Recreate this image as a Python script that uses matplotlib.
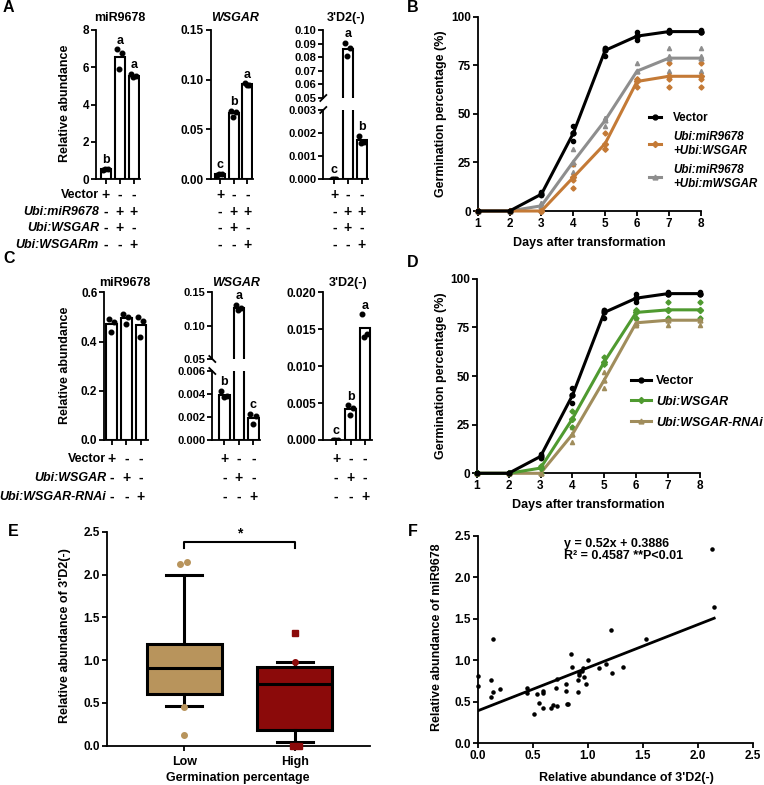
import matplotlib
matplotlib.use('Agg')
import matplotlib.pyplot as plt
from matplotlib.lines import Line2D
from matplotlib.ticker import FormatStrFormatter
import matplotlib.transforms as mtrans
import numpy as np

plt.rcParams['font.family'] = ['Liberation Sans', 'DejaVu Sans']
plt.rcParams['font.weight'] = 'bold'
plt.rcParams['axes.labelweight'] = 'bold'
plt.rcParams['font.size'] = 8.5
plt.rcParams['axes.linewidth'] = 1.3

# ---- data ----
groups = [0, 1, 2]
# panel A (3 replicates per line)
a_mir = [[0.50, 0.52, 0.54], [6.96, 6.78, 5.90], [5.64, 5.53, 5.46]]
a_wsgar = [[0.004, 0.005, 0.005], [0.0688, 0.0674, 0.0624], [0.0963, 0.0950, 0.0946]]
a_d2 = [[0.00001, 0.00002, 0.00001], [0.0903, 0.0867, 0.0812], [0.00189, 0.00163, 0.00156]]
a_letters = [['b', 'a', 'a'], ['c', 'b', 'a'], ['c', 'a', 'b']]
a_rows = ['Vector', 'Ubi:miR9678', 'Ubi:WSGAR', 'Ubi:WSGARm']
a_signs = [['+', '-', '-'], ['-', '+', '+'], ['-', '+', '-'], ['-', '-', '+']]

# panel C
c_mir = [[0.492, 0.481, 0.440], [0.513, 0.501, 0.471], [0.501, 0.485, 0.420]]
c_wsgar = [[0.0043, 0.0038, 0.0037], [0.131, 0.126, 0.124], [0.0023, 0.0021, 0.0014]]
c_d2 = [[0.00002, 0.00003, 0.00001], [0.0047, 0.0043, 0.0034], [0.0170, 0.0144, 0.0140]]
c_letters = [None, ['b', 'a', 'c'], ['c', 'b', 'a']]
c_rows = ['Vector', 'Ubi:WSGAR', 'Ubi:WSGAR-RNAi']
c_signs = [['+', '-', '-'], ['-', '+', '-'], ['-', '-', '+']]

# panels B and D: germination %, 3 replicates per day
days = [1, 2, 3, 4, 5, 6, 7, 8]
vector = [[0, 0, 0], [0, 0, 0], [8, 8, 10], [36, 40, 44], [80, 84, 84],
          [88, 90, 92], [92, 92, 93], [92, 92, 93]]
b_wsgar = [[0, 0, 0], [0, 0, 0], [0, 0, 0], [12, 16, 24], [32, 32, 40],
           [64, 68, 68], [64, 68, 76], [64, 68, 76]]
b_mwsgar = [[0, 0, 0], [0, 0, 0], [0, 4, 4], [20, 24, 32], [44, 48, 48],
            [68, 72, 76], [72, 80, 84], [72, 80, 84]]
d_wsgar = [[0, 0, 0], [0, 0, 0], [0, 4, 4], [24, 28, 32], [56, 56, 60],
           [80, 84, 84], [80, 84, 88], [80, 84, 88]]
d_rnai = [[0, 0, 0], [0, 0, 0], [0, 0, 0], [16, 20, 24], [44, 48, 52],
          [76, 76, 80], [76, 80, 80], [76, 80, 80]]

# panel E: box stats
e_labels = ['Low', 'High']
e_med = [0.91, 0.72]
e_q1 = [0.60, 0.18]
e_q3 = [1.19, 0.92]
e_whislo = [0.46, 0.04]
e_whishi = [2.00, 0.98]
low_out = [2.13, 2.15, 0.45, 0.13]
low_out_dx = [-0.035, 0.03, 0.0, 0.0]
high_out = [1.32, 0.0, 0.0]
high_out_dx = [0.0, -0.02, 0.035]
high_out2 = [0.98]

# panel F
f_x = [0.00, 0.00, 0.12, 0.12, 0.14, 0.14, 0.20, 0.45, 0.45, 0.54, 0.56, 0.51,
       0.59, 0.59, 0.59, 0.67, 0.68, 0.71, 0.72, 0.72, 0.80, 0.80, 0.81, 0.82,
       0.85, 0.86, 0.91, 0.91, 0.92, 0.92, 0.95, 0.96, 0.97, 0.98, 1.00, 1.10,
       1.17, 1.21, 1.22, 1.32, 1.53, 2.13, 2.15]
f_y = [0.81, 0.69, 0.76, 0.55, 0.61, 1.25, 0.65, 0.66, 0.60, 0.59, 0.48, 0.35,
       0.63, 0.60, 0.42, 0.42, 0.46, 0.66, 0.77, 0.45, 0.71, 0.63, 0.47, 0.47,
       1.07, 0.92, 0.76, 0.62, 0.84, 0.82, 0.87, 0.91, 0.80, 0.71, 1.00, 0.91,
       0.95, 1.36, 0.85, 0.92, 1.25, 2.34, 1.64]
slope, intercept = 0.52, 0.3886

ORANGE = '#C47A36'
GRAY = '#8E8E8E'
GREEN = '#4F9A30'
TAN = '#A08D5C'
LOWC = '#B8945C'
HIGHC = '#8B0A0A'

W, H = 764, 785
fig = plt.figure(figsize=(W / 100, H / 100), dpi=100)


def px_axes(l, t, r, b):
    return fig.add_axes([l / W, 1 - b / H, (r - l) / W, (b - t) / H])


def ftext(x, y, s, **kw):
    kw.setdefault('ha', 'center')
    kw.setdefault('va', 'center')
    return fig.text(x / W, 1 - y / H, s, **kw)


def fline(xs, ys):
    fig.add_artist(Line2D([x / W for x in xs], [1 - y / H for y in ys],
                          color='black', lw=1.3, transform=fig.transFigure))


def style(ax):
    for s in ['top', 'right']:
        ax.spines[s].set_visible(False)
    ax.tick_params(direction='out', length=3.5, width=1.3, labelsize=8.5, pad=1.5)


JIT = [-0.2, 0.15, -0.05]
HI = 2.45


def bars(ax, reps, lo):
    means = [np.mean(r) for r in reps]
    ax.bar(groups, means, width=0.72, color='white', edgecolor='black',
           linewidth=1.5, zorder=2)
    for g, r in zip(groups, reps):
        ax.plot(g + np.array(JIT), r, 'o', color='black', ms=3.3, zorder=3)
    ax.set_xlim(lo, HI)
    ax.set_xticks(groups)
    ax.set_xticklabels([])
    style(ax)


def letters(ax, reps, labs):
    if labs is None:
        return
    y0, y1 = ax.get_ylim()
    for g, r, l in zip(groups, reps, labs):
        top = max(r)
        if y0 <= top <= y1:
            ax.annotate(l, (g, top), xytext=(0, 2), textcoords='offset points',
                        ha='center', va='bottom', fontsize=9)


def simple_bar(l, step, t, b, reps, labs, lo, ylim, ticks, fmt):
    ax = px_axes(l, t, l + (HI - lo) * step, b)
    bars(ax, reps, lo)
    ax.set_ylim(*ylim)
    ax.set_yticks(ticks)
    ax.yaxis.set_major_formatter(FormatStrFormatter(fmt))
    letters(ax, reps, labs)
    return ax


def broken_bar(l, step, tu, bu, tl, bl, reps, labs, lo, up, lw_, slash):
    r = l + (HI - lo) * step
    axu = px_axes(l, tu, r, bu)
    axl = px_axes(l, tl, r, bl)
    for ax, (ylim, ticks, fmt) in [(axu, up), (axl, lw_)]:
        bars(ax, reps, lo)
        ax.set_ylim(*ylim)
        ax.set_yticks(ticks)
        ax.yaxis.set_major_formatter(FormatStrFormatter(fmt))
        ax.tick_params(axis='y', labelsize=8)
        letters(ax, reps, labs)
    axu.spines['bottom'].set_visible(False)
    axu.tick_params(axis='x', bottom=False)
    # break marks on the y axis
    for y in (bu, tl):
        if slash == '/':
            fline([l - 3, l + 3], [y + 3, y - 3])
        else:
            fline([l - 3, l + 3], [y - 3, y + 3])
    return axu, axl


def sign_table(ax, rows, signs, ys, xr):
    tr = mtrans.blended_transform_factory(ax.transData, fig.transFigure)
    for row, sg, y in zip(rows, signs, ys):
        if row:
            st = 'normal' if row == 'Vector' else 'italic'
            ftext(xr, y, row, ha='right', fontsize=9, style=st)
        for g, s in zip(groups, sg):
            ax.text(g, 1 - y / H, s, transform=tr, ha='center', va='center', fontsize=10)


# ---- panel A ----
axA1 = simple_bar(96.3, 13.85, 30, 179, a_mir, a_letters[0], -0.7,
                  (0, 8), [0, 2, 4, 6, 8], '%d')
axA2 = simple_bar(211, 13.65, 30, 179, a_wsgar, a_letters[1], -0.66,
                  (0, 0.15), [0, 0.05, 0.10, 0.15], '%.2f')
axA3u, axA3 = broken_bar(323.3, 13.7, 30, 98, 110, 179, a_d2, a_letters[2], -0.8,
                         ((0.05, 0.10), [0.05, 0.06, 0.07, 0.08, 0.09, 0.10], '%.2f'),
                         ((0, 0.003), [0, 0.001, 0.002, 0.003], '%.3f'), '/')
ftext(120, 18, 'miR9678', fontsize=9)
ftext(235, 18, 'WSGAR', fontsize=9, style='italic')
ftext(346, 18, "3'D2(-)", fontsize=9)
ftext(65, 103, 'Relative abundance', rotation=90, fontsize=9)
ay = [195, 212, 228, 245]
sign_table(axA1, a_rows, a_signs, ay, 99)
sign_table(axA2, [''] * 4, a_signs, ay, 0)
sign_table(axA3, [''] * 4, a_signs, ay, 0)

# ---- panel C ----
axC1 = simple_bar(104.3, 14.65, 292.3, 440, c_mir, c_letters[0], -0.5,
                  (0, 0.6), [0, 0.2, 0.4, 0.6], '%.1f')
axC2u, axC2 = broken_bar(212.3, 14.5, 292.3, 359, 371, 440, c_wsgar, c_letters[1], -0.83,
                         ((0.05, 0.15), [0.05, 0.10, 0.15], '%.2f'),
                         ((0, 0.006), [0, 0.002, 0.004, 0.006], '%.3f'), '\\')
axC3 = simple_bar(323.3, 14.5, 292.3, 440, c_d2, c_letters[2], -0.88,
                  (0, 0.02), [0, 0.005, 0.010, 0.015, 0.020], '%.3f')
ftext(125, 283, 'miR9678', fontsize=9)
ftext(236, 283, 'WSGAR', fontsize=9, style='italic')
ftext(348, 283, "3'D2(-)", fontsize=9)
ftext(65, 365, 'Relative abundance', rotation=90, fontsize=9)
cy = [459, 478, 497]
sign_table(axC1, c_rows, c_signs, cy, 106)
sign_table(axC2, [''] * 3, c_signs, cy, 0)
sign_table(axC3, [''] * 3, c_signs, cy, 0)


# ---- panels B and D ----
def germ_panel(l, t, r, b, series):
    ax = px_axes(l, t, r, b)
    handles = []
    for reps, color, mk, ms, lab in series:
        mean = [np.mean(x) for x in reps]
        for d, x in zip(days, reps):
            ax.plot([d] * len(x), x, mk, color=color, ms=ms, ls='none', clip_on=False, zorder=3)
        h, = ax.plot(days, mean, color=color, lw=2.2, marker=mk, ms=ms + 0.5,
                     clip_on=False, label=lab, zorder=4)
        handles.append(h)
    ax.set_xlim(1, 8)
    ax.set_ylim(0, 100)
    ax.set_xticks(days)
    ax.set_yticks([0, 25, 50, 75, 100])
    style(ax)
    return ax, handles


axB, hB = germ_panel(477.7, 16.7, 700.7, 211, [
    (b_mwsgar, GRAY, '^', 3.0, 'Ubi:miR9678\n+Ubi:mWSGAR'),
    (b_wsgar, ORANGE, 'D', 2.6, 'Ubi:miR9678\n+Ubi:WSGAR'),
    (vector, 'black', 'o', 3.0, 'Vector')])
legB = axB.legend(hB[::-1], [h.get_label() for h in hB[::-1]], loc='upper left',
                  bbox_to_anchor=(649 / W, 1 - 112 / H), bbox_transform=fig.transFigure,
                  frameon=False, fontsize=8.4, handlelength=1.05, handletextpad=1.0,
                  labelspacing=0.6, borderpad=0, borderaxespad=0)
for t in legB.get_texts()[1:]:
    t.set_style('italic')
ftext(441, 114, 'Germination percentage (%)', rotation=90, fontsize=9)
ftext(589, 243, 'Days after transformation', fontsize=9)

axD, hD = germ_panel(476.7, 278.7, 700, 473.3, [
    (d_rnai, TAN, '^', 3.0, 'Ubi:WSGAR-RNAi'),
    (d_wsgar, GREEN, 'D', 2.6, 'Ubi:WSGAR'),
    (vector, 'black', 'o', 3.0, 'Vector')])
legD = axD.legend(hD[::-1], [h.get_label() for h in hD[::-1]], loc='upper left',
                  bbox_to_anchor=(631 / W, 1 - 375 / H), bbox_transform=fig.transFigure,
                  frameon=False, fontsize=9, handlelength=1.6, handletextpad=0.4,
                  labelspacing=0.7, borderpad=0, borderaxespad=0)
for t in legD.get_texts()[1:]:
    t.set_style('italic')
ftext(441, 376, 'Germination percentage (%)', rotation=90, fontsize=9)
ftext(588, 505, 'Days after transformation', fontsize=9)

# ---- panel E ----
axE = px_axes(106.7, 531.9, 370, 745.7)
stats = []
for i in range(2):
    stats.append(dict(med=e_med[i], q1=e_q1[i], q3=e_q3[i],
                      whislo=e_whislo[i], whishi=e_whishi[i], fliers=[]))
bp = axE.bxp(stats, positions=[1, 2], widths=0.68, patch_artist=True, showfliers=False,
             boxprops=dict(lw=2.2, edgecolor='black'),
             medianprops=dict(color='black', lw=2.2),
             whiskerprops=dict(lw=2.2), capprops=dict(lw=2.2), capwidths=0.33)
for patch, c in zip(bp['boxes'], [LOWC, HIGHC]):
    patch.set_facecolor(c)
    patch.set_zorder(2)
axE.plot(1 + np.array(low_out_dx), low_out, 'o', color=LOWC, ms=4, ls='none', zorder=4)
axE.plot(2 + np.array(high_out_dx), high_out, 's', color=HIGHC, ms=4, ls='none',
         zorder=4, clip_on=False)
axE.plot([2] * len(high_out2), high_out2, 'o', color=HIGHC, ms=4, ls='none', zorder=4)
axE.plot([1, 1, 2, 2], [2.31, 2.386, 2.386, 2.31], color='black', lw=1.5)
axE.text(1.5, 2.40, '*', ha='center', va='bottom', fontsize=10)
axE.set_xlim(0.3, 2.68)
axE.set_ylim(0, 2.5)
axE.set_yticks([0, 0.5, 1.0, 1.5, 2.0, 2.5])
axE.yaxis.set_major_formatter(FormatStrFormatter('%.1f'))
axE.set_xticks([1, 2])
axE.set_xticklabels(e_labels, fontsize=9)
style(axE)
axE.tick_params(axis='x', labelsize=9, pad=4)
ftext(65, 636, "Relative abundance of 3'D2(-)", rotation=90, fontsize=9)
ftext(238, 778, 'Germination percentage', fontsize=9)

# ---- panel F ----
axF = px_axes(477.7, 535.9, 752.7, 743)
axF.scatter(f_x, f_y, s=5, color='black', zorder=3, clip_on=False)
xfit = np.array([0, max(f_x)])
axF.plot(xfit, slope * xfit + intercept, color='black', lw=2)
axF.text(0.78, 2.33, 'y = 0.52x + 0.3886\nR\u00b2 = 0.4587 **P<0.01', ha='left',
         va='center', fontsize=9, linespacing=1.05)
axF.set_xlim(0, 2.5)
axF.set_ylim(0, 2.5)
axF.set_xticks([0, 0.5, 1.0, 1.5, 2.0, 2.5])
axF.set_yticks([0, 0.5, 1.0, 1.5, 2.0, 2.5])
axF.xaxis.set_major_formatter(FormatStrFormatter('%.1f'))
axF.yaxis.set_major_formatter(FormatStrFormatter('%.1f'))
style(axF)
ftext(437, 637, 'Relative abundance of miR9678', rotation=90, fontsize=9)
ftext(626, 778, "Relative abundance of 3'D2(-)", fontsize=9)

# panel letters
for s, x, y in [('A', 8, 8), ('B', 413, 8), ('C', 9, 259), ('D', 413, 263),
                ('E', 13, 531), ('F', 413, 531)]:
    ftext(x, y, s, fontsize=11.5)

fig.savefig('out.png', dpi=100)
